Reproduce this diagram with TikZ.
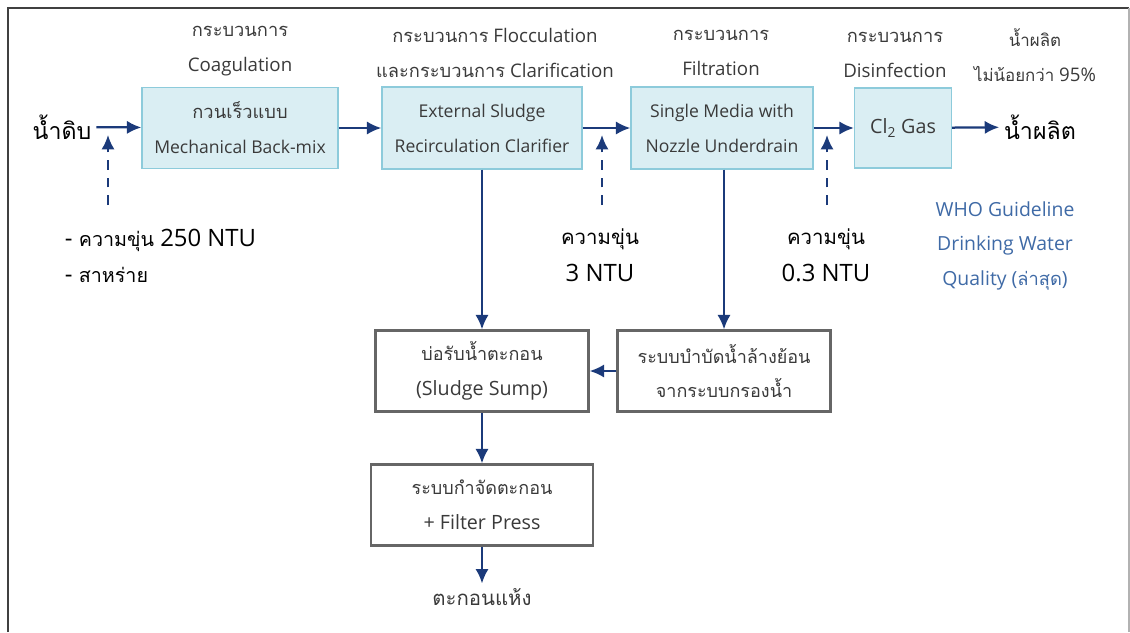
\documentclass[tikz,border=0pt]{standalone}
\usepackage{fontspec}
\setmainfont{Open Sans}
\newfontfamily\thaifont[Script=Thai]{Loma}
\usetikzlibrary{arrows.meta,positioning}
\definecolor{wtnavy}{HTML}{1B3A7A}
\definecolor{wtfill}{HTML}{DAEEF3}
\definecolor{wtedge}{HTML}{8DCBDB}
\definecolor{wtblue}{HTML}{3F6AA6}
\definecolor{wttext}{HTML}{3A3A3A}
\newcommand{\tha}[2][13]{{\fontsize{#1}{24.8}\thaifont #2}}

\begin{document}
\begin{tikzpicture}[x=0.025cm, y=-0.025cm, font=\fontsize{12.5}{24.8}\selectfont,
  proc/.style={rectangle, draw=wtedge, line width=0.9pt, fill=wtfill, text=wttext, align=center, inner sep=2pt},
  sbox/.style={rectangle, draw=black!60, line width=1.6pt, fill=white, text=wttext, align=center, inner sep=2pt, minimum height=2.025cm, font=\fontsize{14}{24.8}\selectfont},
  toplbl/.style={align=center, text=wttext, font=\fontsize{13.3}{24.8}\selectfont},
  big/.style={text=black, font=\fontsize{17}{26}\selectfont},
  arr/.style={-{Latex[length=3.6mm,width=3.3mm]}, line width=1.6pt, draw=wtnavy},
  darr/.style={arr, dash pattern=on 7pt off 5.5pt}]
\useasboundingbox (0,0) rectangle (1130,632);
\draw[black!75, line width=1.8pt] (8,632) -- (8,8) -- (1129,8);
\draw[black!30, line width=1pt] (1129,8) -- (1129,632);

\node[proc, minimum width=4.9cm, minimum height=2.025cm] (coag) at (240,128) {\tha{กวนเร็วแบบ}\\Mechanical Back-mix};
\node[proc, minimum width=5.0cm, minimum height=2.05cm] (clar) at (482,128) {External Sludge\\Recirculation Clarifier};
\node[proc, minimum width=4.55cm, minimum height=2.05cm] (filt) at (722,128) {Single Media with\\Nozzle Underdrain};
\node[proc, minimum width=2.425cm, minimum height=2.0cm, font=\fontsize{14}{24.8}\selectfont] (chl) at (903,128) {Cl\textsubscript{2} Gas};

\node[big] (raw) at (62,127) {\tha[16.5]{น้ำดิบ}};
\node[big] (prod) at (1040,127) {\tha[16.5]{น้ำผลิต}};

\node[toplbl] (c1) at (240,51) {\tha{กระบวนการ}\\Coagulation};
\node[toplbl] (c2) at (495,53) {\tha{กระบวนการ} Flocculation\\\tha{และกระบวนการ} Clarification};
\node[toplbl] (c3) at (721,53) {\tha{กระบวนการ}\\Filtration};
\node[toplbl] (c4) at (895,55) {\tha{กระบวนการ}\\Disinfection};
\node[toplbl] (c5) at (1035,55) {\tha[12]{น้ำผลิต}\\\tha[12]{ไม่น้อยกว่า} 95\%};

\node[big, align=left, anchor=west] (t1) at (60,256) {- \tha[14]{ความขุ่น} 250 NTU\\- \tha[14]{สาหร่าย}};
\node[big, align=center] (t2) at (600,255) {\tha[14.5]{ความขุ่น}\\3 NTU};
\node[big, align=center] (t3) at (826,255) {\tha[14.5]{ความขุ่น}\\0.3 NTU};
\node[align=center, text=wtblue, font=\fontsize{13.8}{24.5}\selectfont] (who) at (1005,246) {WHO Guideline\\Drinking Water\\Quality (\tha{ล่าสุด})};

\node[sbox, minimum width=5.325cm] (sump) at (482,371) {\tha[12.8]{บ่อรับน้ำตะกอน}\\(Sludge Sump)};
\node[sbox, minimum width=5.325cm] (wash) at (724,371) {\tha[12.8]{ระบบบำบัดน้ำล้างย้อน}\\\tha[12.8]{จากระบบกรองน้ำ}};
\node[sbox, minimum width=5.55cm] (press) at (482,505) {\tha[12.8]{ระบบกำจัดตะกอน}\\+ Filter Press};
\node[text=wttext] (dry) at (482,597) {\tha[14.5]{ตะกอนแห้ง}};

\coordinate (d1s) at (108,205);
\coordinate (d1e) at (108,135);
\coordinate (d2s) at (602,205);
\coordinate (d2e) at (602,135);
\coordinate (d3s) at (827,205);
\coordinate (d3e) at (827,135);

\draw[arr] (raw) -- (coag);
\draw[arr] (coag) -- (clar);
\draw[arr] (clar) -- (filt);
\draw[arr] (filt) -- (chl);
\draw[arr] (chl) -- (prod);
\draw[darr] (d1s) -- (d1e);
\draw[darr] (d2s) -- (d2e);
\draw[darr] (d3s) -- (d3e);
\draw[arr] (clar.south) -- (sump.north);
\draw[arr] (filt.south -| wash.north) -- (wash.north);
\draw[arr] (wash) -- (sump);
\draw[arr] (sump) -- (press);
\draw[arr] (press) -- (dry);
\end{tikzpicture}
\end{document}
